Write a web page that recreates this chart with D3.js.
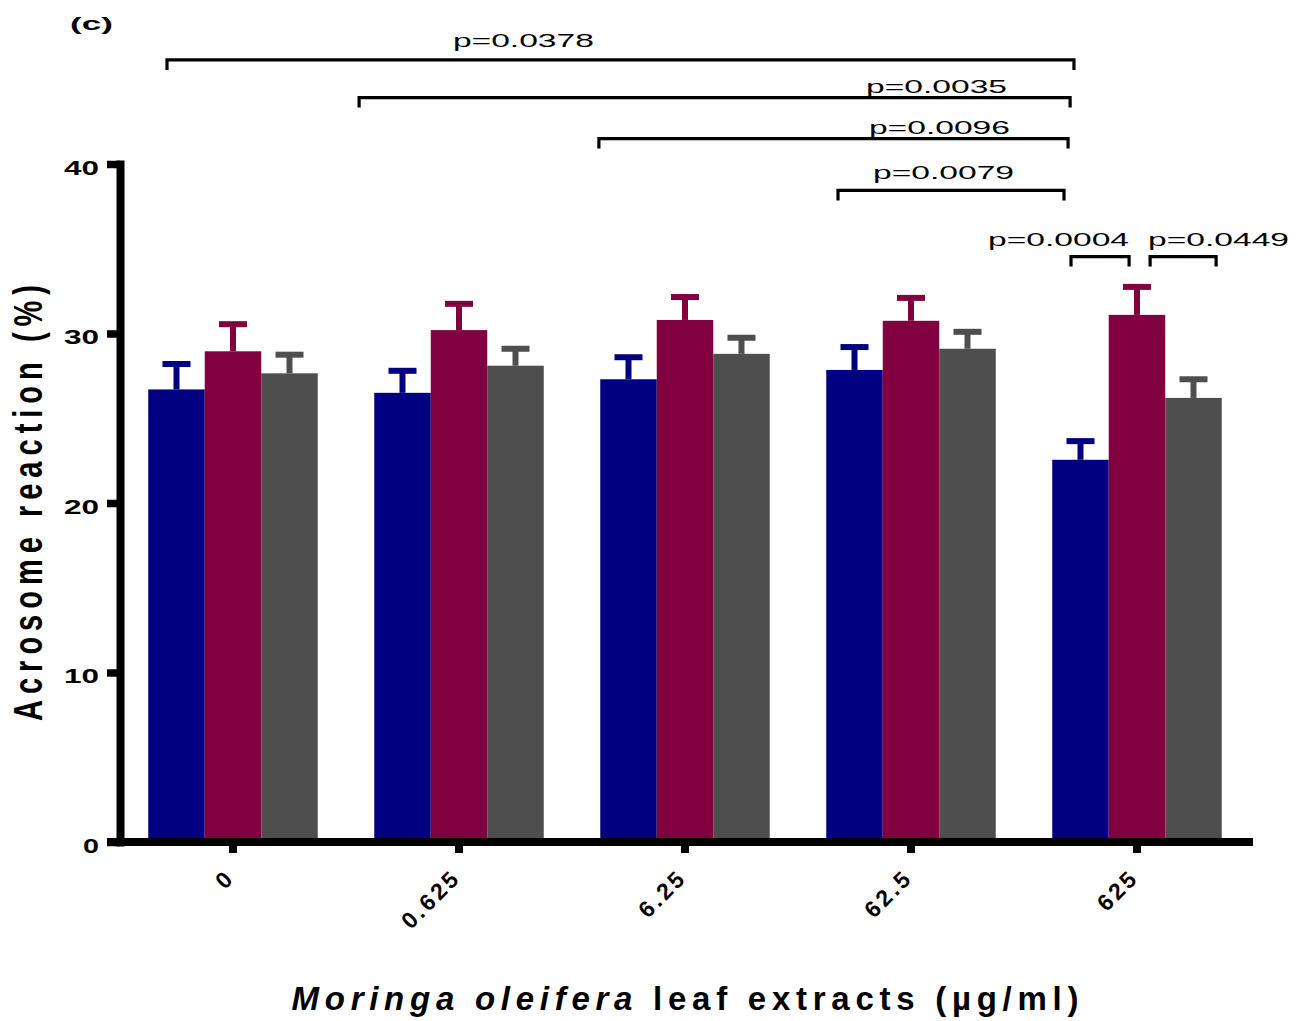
<!DOCTYPE html>
<html>
<head>
<meta charset="utf-8">
<script src="https://cdn.jsdelivr.net/npm/d3@7/dist/d3.min.js"></script>
<style>
  html, body { margin: 0; padding: 0; background: #ffffff; }
  svg { display: block; font-family: "Liberation Sans", Arial, Helvetica, sans-serif; }
</style>
</head>
<body>
<svg id="chart" width="1308" height="1021"></svg>
<script>
// ---------------- data ----------------
const categories = ["0", "0.625", "6.25", "62.5", "625"];
const seriesNames = ["Series 1", "Series 2", "Series 3"];
const series1Mean = [26.7, 26.5, 27.3, 27.85, 22.55];
const series1Err  = [1.5, 1.3, 1.3, 1.35, 1.1];
const series2Mean = [28.95, 30.2, 30.8, 30.75, 31.1];
const series2Err  = [1.6, 1.55, 1.35, 1.35, 1.65];
const series3Mean = [27.65, 28.1, 28.8, 29.1, 26.2];
const series3Err  = [1.1, 1.0, 0.95, 1.0, 1.1];
const yTicks = [0, 10, 20, 30, 40];

// significance brackets (category-position units / data units)
const pLabels = ["p=0.0378", "p=0.0035", "p=0.0096", "p=0.0079", "p=0.0004", "p=0.0449"];
const pFrom   = [-0.292, 0.558, 1.619, 2.677, 3.708, 4.058];
const pTo     = [3.721, 3.704, 3.695, 3.677, 3.965, 4.35];
const pLevel  = [46.14, 43.92, 41.50, 38.44, 34.54, 34.54];
// label placement for the brackets
const pLabelStart = [0.973, 2.801, 2.814, 2.832, 3.341, 4.049];
const pLabelLevel = [46.90, 44.19, 41.77, 39.12, 35.16, 35.16];

const panelLabel = "(c)";
const yTitle = "Acrosome reaction (%)";

// ---------------- layout ----------------
const colors = ["#000080", "#800040", "#4e4e4e"];
const svg = d3.select("#chart");

const x = d3.scaleBand().domain(categories).range([120, 1250])
  .paddingInner(0.25).paddingOuter(0.125);
const xs = d3.scaleBand().domain(seriesNames).range([0, x.bandwidth()]);
const y = d3.scaleLinear().domain([0, 40]).range([842, 164]);
const pos = d3.scaleLinear().domain([0, categories.length - 1])
  .range([x(categories[0]) + x.bandwidth() / 2, x(categories[categories.length - 1]) + x.bandwidth() / 2]);

const means = [series1Mean, series2Mean, series3Mean];
const errs = [series1Err, series2Err, series3Err];
const rows = [];
seriesNames.forEach((s, si) => {
  categories.forEach((c, ci) => {
    rows.push({ cat: c, ser: s, si, mean: means[si][ci], err: errs[si][ci] });
  });
});

// bars
svg.append("g").selectAll("rect").data(rows).join("rect")
  .attr("x", d => x(d.cat) + xs(d.ser))
  .attr("y", d => y(d.mean))
  .attr("width", xs.bandwidth())
  .attr("height", d => y(0) - y(d.mean))
  .attr("fill", d => colors[d.si]);

// error bars
const eb = svg.append("g");
eb.selectAll("line.stem").data(rows).join("line")
  .attr("class", "stem")
  .attr("x1", d => x(d.cat) + xs(d.ser) + xs.bandwidth() / 2)
  .attr("x2", d => x(d.cat) + xs(d.ser) + xs.bandwidth() / 2)
  .attr("y1", d => y(d.mean))
  .attr("y2", d => y(d.mean + d.err))
  .attr("stroke", d => colors[d.si]).attr("stroke-width", 6);
eb.selectAll("line.cap").data(rows).join("line")
  .attr("class", "cap")
  .attr("x1", d => x(d.cat) + xs(d.ser) + xs.bandwidth() / 2 - 14)
  .attr("x2", d => x(d.cat) + xs(d.ser) + xs.bandwidth() / 2 + 14)
  .attr("y1", d => y(d.mean + d.err))
  .attr("y2", d => y(d.mean + d.err))
  .attr("stroke", d => colors[d.si]).attr("stroke-width", 6);

// y axis
const yAxis = svg.append("g").attr("transform", `translate(${x.range()[0]},0)`)
  .call(d3.axisLeft(y).tickValues(yTicks).tickSize(13).tickSizeOuter(0).tickPadding(0));
yAxis.select(".domain").attr("stroke", "#000").attr("stroke-width", 8).attr("stroke-linecap", "square");
yAxis.selectAll(".tick line").attr("stroke", "#000").attr("stroke-width", 7.5);
yAxis.selectAll(".tick text")
  .attr("x", -21).attr("dy", "0.52em")
  .attr("fill", "#000")
  .style("font-family", '"Liberation Sans", Arial, sans-serif')
  .style("font-size", "20px").style("font-weight", "bold")
  .attr("text-anchor", "end")
  .attr("textLength", d => String(d).length * 16 + (String(d).length - 1) * 3)
  .attr("lengthAdjust", "spacingAndGlyphs");

// x axis
const xAxis = svg.append("g").attr("transform", `translate(0,${y(0)})`)
  .call(d3.axisBottom(x).tickSize(11).tickSizeOuter(0));
xAxis.select(".domain").remove();
xAxis.selectAll(".tick line").attr("stroke", "#000").attr("stroke-width", 8);
xAxis.selectAll(".tick text")
  .attr("y", 0).attr("dy", 0)
  .attr("transform", "translate(3,37) rotate(-45)")
  .attr("text-anchor", "end")
  .attr("fill", "#000")
  .style("font-family", '"Liberation Sans", Arial, sans-serif')
  .style("font-size", "23px").style("font-weight", "bold")
  .style("letter-spacing", "3px");
svg.append("line")
  .attr("x1", x.range()[0] - 13).attr("x2", x.range()[1] + 3)
  .attr("y1", y(0)).attr("y2", y(0))
  .attr("stroke", "#000").attr("stroke-width", 8);

// significance brackets
const br = svg.append("g");
pLabels.forEach((lab, i) => {
  const x1 = pos(pFrom[i]), x2 = pos(pTo[i]), yy = y(pLevel[i]);
  br.append("path")
    .attr("d", `M${x1},${yy + 10}V${yy}H${x2}V${yy + 10}`)
    .attr("fill", "none").attr("stroke", "#000").attr("stroke-width", 3.2);
  br.append("text")
    .attr("x", pos(pLabelStart[i])).attr("y", y(pLabelLevel[i]))
    .attr("textLength", 141).attr("lengthAdjust", "spacingAndGlyphs")
    .style("font-size", "19px").attr("fill", "#000")
    .text(lab);
});

// panel label
svg.append("text").attr("x", 70).attr("y", 29.5)
  .attr("textLength", 43).attr("lengthAdjust", "spacingAndGlyphs")
  .style("font-size", "19px").style("font-weight", "bold")
  .text(panelLabel);

// y title
svg.append("text")
  .attr("transform", `translate(42,${(y(0) + y(40)) / 2}) rotate(-90) scale(1,1.42)`)
  .attr("text-anchor", "middle")
  .attr("textLength", 436).attr("lengthAdjust", "spacing")
  .style("font-size", "29px").style("font-weight", "bold")
  .text(yTitle);

// x title
const xt = svg.append("text")
  .attr("x", (x.range()[0] + x.range()[1]) / 2).attr("y", 1010)
  .attr("text-anchor", "middle")
  .attr("textLength", 787).attr("lengthAdjust", "spacing")
  .style("font-size", "33px").style("font-weight", "bold");
xt.append("tspan").style("font-style", "italic").text("Moringa oleifera");
xt.append("tspan").text(" leaf extracts (\u00b5g/ml)");
</script>
</body>
</html>
